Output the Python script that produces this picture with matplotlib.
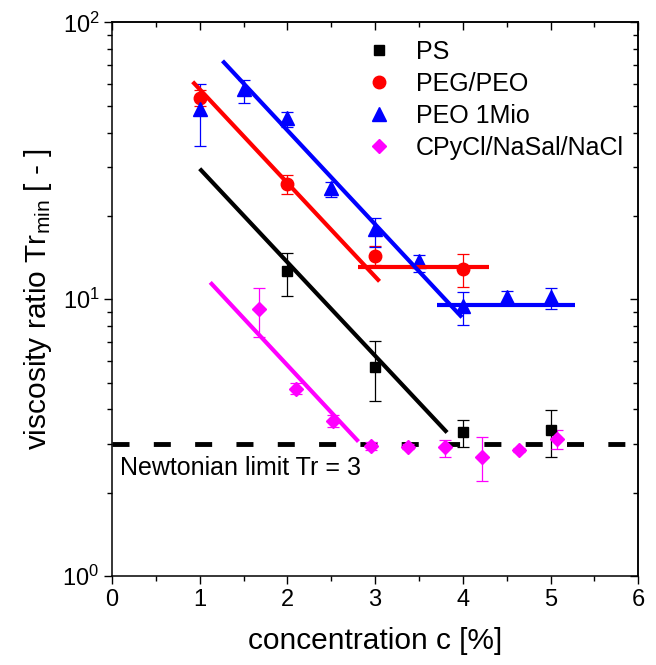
import matplotlib
matplotlib.use("Agg")
import matplotlib.pyplot as plt
from matplotlib.ticker import MultipleLocator, LogLocator

plt.rcParams["font.family"] = ["Liberation Sans", "DejaVu Sans"]
plt.rcParams["mathtext.fontset"] = "custom"
plt.rcParams["mathtext.rm"] = "Liberation Sans"
plt.rcParams["mathtext.it"] = "Liberation Sans:italic"
plt.rcParams["mathtext.default"] = "regular"

# measured Tr_min with lower / upper error limits
ps_c = [2, 3, 4, 5]
ps_tr = [12.6, 5.7, 3.30, 3.36]
ps_lo = [10.3, 4.3, 2.93, 2.68]
ps_hi = [14.7, 7.06, 3.67, 3.99]

peg_c = [1, 2, 3, 4]
peg_tr = [53.4, 26.1, 14.3, 12.9]
peg_lo = [50.0, 24.0, 13.3, 11.1]
peg_hi = [57.0, 28.2, 15.5, 14.6]

peo_c = [1, 1.5, 2, 2.5, 3, 3.5, 4, 4.5, 5]
peo_tr = [48.5, 57.4, 45.3, 25.2, 17.9, 13.7, 9.45, 10.2, 10.2]
peo_lo = [35.8, 51.0, 42.0, 23.3, 15.4, 12.5, 8.1, 9.8, 9.2]
peo_hi = [60.0, 62.0, 47.6, 26.6, 19.7, 14.4, 10.6, 10.7, 11.0]

wlm_c = [1.68, 2.1, 2.52, 2.95, 3.37, 3.8, 4.22, 4.64, 5.07]
wlm_tr = [9.2, 4.75, 3.64, 2.95, 2.93, 2.93, 2.70, 2.85, 3.12]
wlm_lo = [7.3, 4.55, 3.46, 2.85, 2.88, 2.70, 2.21, 2.80, 2.87]
wlm_hi = [11.0, 5.0, 3.83, 3.05, 3.0, 3.11, 3.19, 2.90, 3.37]

# fitted power-law decays and plateaus (end points)
ps_fit_c, ps_fit_tr = [1.0, 3.82], [29.6, 3.3]
peg_fit_c, peg_fit_tr = [0.92, 3.05], [61.0, 11.6]
peg_flat_c, peg_flat_tr = [2.8, 4.3], [13.1, 13.1]
peo_fit_c, peo_fit_tr = [1.26, 3.99], [72.6, 8.6]
peo_flat_c, peo_flat_tr = [3.71, 5.28], [9.5, 9.5]
wlm_fit_c, wlm_fit_tr = [1.12, 2.81], [11.5, 3.06]

newtonian = 3

fig = plt.figure(figsize=(6.56, 6.65), dpi=100)
ax = fig.add_axes([0.1707, 0.1338, 0.8023, 0.8326])
ax.set_yscale("log")

series = [
    ("PS", ps_c, ps_tr, ps_lo, ps_hi, "black", "s", 7.5),
    ("PEG/PEO", peg_c, peg_tr, peg_lo, peg_hi, "#ff0000", "o", 9),
    ("PEO 1Mio", peo_c, peo_tr, peo_lo, peo_hi, "#0000ff", "^", 10),
    ("CPyCl/NaSal/NaCl", wlm_c, wlm_tr, wlm_lo, wlm_hi, "#ff00ff", "D", 7.5),
]
for name, c, tr, lo, hi, col, mk, ms in series:
    err = [[t - l for t, l in zip(tr, lo)], [h - t for t, h in zip(tr, hi)]]
    ax.errorbar(c, tr, yerr=err, fmt="none", ecolor=col, elinewidth=0.9,
                capsize=4.5, capthick=0.9, zorder=2)
    ax.plot(c, tr, ls="none", marker=mk, ms=ms, color=col, mec=col, label=name, zorder=3)

for fc, ft, col in [(ps_fit_c, ps_fit_tr, "black"),
                    (peg_fit_c, peg_fit_tr, "#ff0000"),
                    (peg_flat_c, peg_flat_tr, "#ff0000"),
                    (peo_fit_c, peo_fit_tr, "#0000ff"),
                    (peo_flat_c, peo_flat_tr, "#0000ff"),
                    (wlm_fit_c, wlm_fit_tr, "#ff00ff")]:
    ax.plot(fc, ft, color=col, lw=3, solid_capstyle="butt", zorder=4)

ax.axhline(newtonian, color="black", lw=3.5, dashes=(3.5, 5), zorder=1)
ax.text(0.09, 2.31, "Newtonian limit Tr = 3", fontsize=18, va="baseline", ha="left")

ax.set_xlim(0, 6)
ax.set_ylim(1, 100)
ax.xaxis.set_major_locator(MultipleLocator(1))
ax.xaxis.set_minor_locator(MultipleLocator(0.5))
ax.yaxis.set_major_locator(LogLocator(base=10, numticks=10))
ax.yaxis.set_minor_locator(LogLocator(base=10, subs=range(2, 10), numticks=10))
ax.tick_params(which="major", direction="out", length=6, width=1, labelsize=17, pad=3)
ax.tick_params(which="minor", direction="out", length=3.5, width=1)
for s in ax.spines.values():
    s.set_linewidth(1.1)

# mirrored ticks pointing inward on top and right
top = ax.secondary_xaxis("top")
top.xaxis.set_major_locator(MultipleLocator(1))
top.xaxis.set_minor_locator(MultipleLocator(0.5))
top.tick_params(which="major", direction="in", length=6, width=1, labeltop=False)
top.tick_params(which="minor", direction="in", length=3.5, width=1)
right = ax.secondary_yaxis("right")
right.yaxis.set_major_locator(LogLocator(base=10, numticks=10))
right.yaxis.set_minor_locator(LogLocator(base=10, subs=range(2, 10), numticks=10))
right.tick_params(which="major", direction="in", length=6, width=1, labelright=False)
right.tick_params(which="minor", direction="in", length=3.5, width=1)
for s in list(top.spines.values()) + list(right.spines.values()):
    s.set_linewidth(1.1)

ax.set_xlabel("concentration c [%]", fontsize=21.5, labelpad=12)
ax.set_ylabel("viscosity ratio Tr$_{min}$ [ - ]", fontsize=21.5, labelpad=6)

ax.legend(loc="upper left", bbox_to_anchor=(0.483, 0.968), frameon=False,
          fontsize=18, handlelength=1.0, handletextpad=1.0, labelspacing=0.32,
          borderpad=0, borderaxespad=0)

fig.savefig("out.png", dpi=100)
